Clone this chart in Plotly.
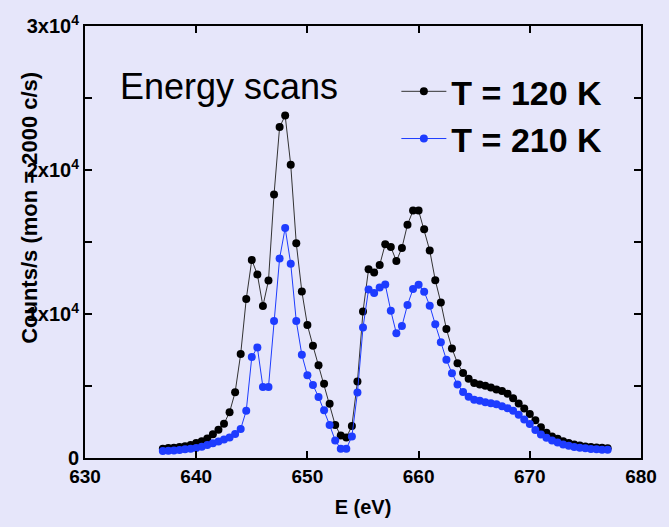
import plotly.graph_objects as go

energy = [637 + 0.5 * i for i in range(81)]

counts_120K = [
    640, 690, 710, 760, 820, 910, 1050, 1170, 1350, 1650, 1970, 2380, 3180, 4560, 7220, 11040,
    13750, 12740, 10560, 12320, 18300, 22980, 23780, 20360, 14910, 11570,
    9230, 7790, 6440, 5150, 3760, 2290, 1560, 1420, 2220, 5310,
    10180, 13100, 12880, 13400, 14850, 14660, 13680, 14590, 16200, 17180,
    17180, 15880, 14410, 12350, 10790, 8960, 7610, 6580, 5910, 5500,
    5200, 5110, 5020, 4900, 4760, 4650, 4470, 4150, 3780, 3440, 3050, 2630, 2130,
    1760, 1490, 1330, 1170, 1050, 940, 870, 800, 760, 730, 710, 670,
]

counts_210K = [
    480, 500, 520, 550, 600, 640, 690, 780, 910, 1030, 1150, 1280, 1420, 1670, 2020, 3280,
    7010, 7680, 4930, 4930, 9510, 13860, 15970, 13490, 9510, 7170,
    5750, 5070, 4240, 3320, 2290, 1220, 640, 640, 1490, 4540,
    9060, 11700, 11460, 11840, 12050, 10220, 8660, 9160, 10630, 11730,
    12030, 11550, 10580, 9280, 8040, 6820, 5890, 5110, 4580, 4260,
    4050, 3970, 3870, 3800, 3730, 3590, 3460, 3280, 3000, 2680, 2360, 1950, 1630,
    1400, 1220, 1080, 940, 850, 760, 710, 670, 620, 600, 570, 570,
]

series_names = ["T = 120 K", "T = 210 K"]
x_ticks = [630, 640, 650, 660, 670, 680]
y_tickvals = [0, 10000, 20000, 30000]
y_ticktext = ["0", "1x10<sup>4</sup>", "2x10<sup>4</sup>", "3x10<sup>4</sup>"]

BG = "#E6E6FA"
BLACK = "#000000"
BLUE = "#1E3CFF"
FONT = "Liberation Sans, Arial, sans-serif"

fig = go.Figure()
fig.add_trace(go.Scatter(
    x=energy, y=counts_120K, mode="lines+markers", name=series_names[0],
    line=dict(color="#333333", width=1),
    marker=dict(color=BLACK, size=8, symbol="circle"),
))
fig.add_trace(go.Scatter(
    x=energy, y=counts_210K, mode="lines+markers", name=series_names[1],
    line=dict(color=BLUE, width=1),
    marker=dict(color=BLUE, size=8, symbol="circle"),
))

fig.update_layout(
    width=669, height=527,
    margin=dict(l=85, r=19, t=25, b=66),
    paper_bgcolor=BG, plot_bgcolor=BG,
    font=dict(family=FONT, color="black"),
    showlegend=True,
    legend=dict(
        x=0.56, y=0.915, xanchor="left", yanchor="top",
        bgcolor="rgba(0,0,0,0)",
        font=dict(size=34, family=FONT, color="black", weight="bold"),
        itemwidth=45, tracegroupgap=0,
    ),
    xaxis=dict(
        range=[630, 680], tickvals=x_ticks, ticks="inside", ticklen=7,
        tickwidth=2, tickcolor="black", showline=True, linewidth=2,
        linecolor="black", mirror="ticks", showgrid=False, zeroline=False,
        tickfont=dict(size=19, family=FONT, weight="bold"),
        title=dict(text="E (eV)", font=dict(size=20, family=FONT, weight="bold"), standoff=14),
    ),
    yaxis=dict(
        range=[0, 30000], tickvals=y_tickvals, ticktext=y_ticktext,
        ticks="inside", ticklen=7, tickwidth=2, tickcolor="black",
        showline=True, linewidth=2, linecolor="black", mirror="ticks",
        showgrid=False, zeroline=False,
        tickfont=dict(size=20, family=FONT, weight="bold"),
        minor=dict(dtick=5000, ticks="inside", ticklen=7, tickwidth=2, tickcolor="black"),
    ),
    annotations=[
        dict(text="Energy scans", xref="paper", yref="paper", x=0.06, y=0.86,
             xanchor="left", yanchor="middle", showarrow=False,
             font=dict(size=36, family=FONT, color="black")),
        dict(text="Counts/s (mon = 2000 c/s)", xref="paper", yref="paper",
             x=-0.1, y=0.58, xanchor="center", yanchor="middle", textangle=-90,
             showarrow=False, font=dict(size=22, family=FONT, color="black", weight="bold")),
    ],
)

fig.write_html("out.html")
